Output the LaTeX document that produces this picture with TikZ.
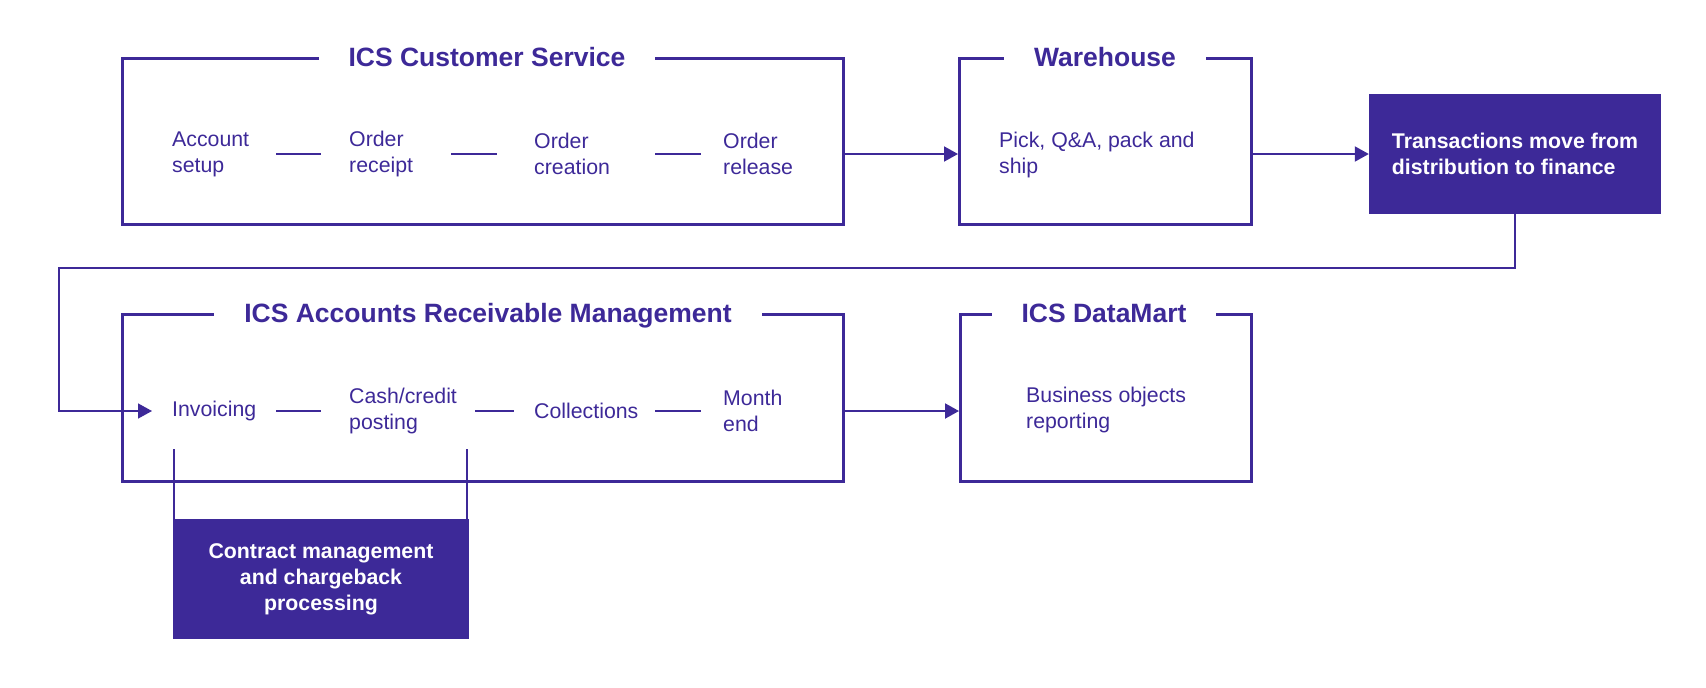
\documentclass[tikz,border=0pt]{standalone}
\usepackage{fontspec}
\setmainfont{Liberation Sans}
\usepackage{tikz}
\usetikzlibrary{arrows.meta}
\usetikzlibrary{positioning}
\definecolor{ics}{RGB}{61,41,152}
\tikzset{
	stage/.style={draw=ics,line width=3pt,minimum width=#1,minimum height=166pt,anchor=north west,inner sep=0pt},
	heading/.style={fill=white,text=ics,inner xsep=30pt,inner ysep=3pt,text height=19pt,text depth=0pt,font=\fontsize{26.5}{32}\selectfont\bfseries},
	item/.style={anchor=west,inner sep=0pt,text width=#1,align=flush left,text=ics,font=\fontsize{21.3}{26}\selectfont},
	block/.style={fill=ics,text=white,minimum width=#1,minimum height=120pt,inner sep=0pt,font=\fontsize{21.3}{26}\selectfont\bfseries},
	link/.style={draw=ics,line width=2pt,shorten >=#1},
	flow/.style={draw=ics,line width=2pt,-{Triangle[length=14pt,width=15pt]}},
	tie/.style={draw=ics,line width=1.5pt}
}

\begin{document}
\begin{tikzpicture}[x=1pt,y=-1pt]
		\useasboundingbox (0,0) rectangle (1706,688);
		\node[stage=721pt] (cs) at (121,57) {};
		\node[heading] (cst) at (487,57) {ICS Customer Service};
		\node[item=104pt] (acct) at (172,154) {Account\\setup};
		\node[item=102pt] (rcpt) at (349,154) {Order\\receipt};
		\node[item=121pt] (crea) at (534,154) {Order\\creation};
		\node[item=90pt] (rel) at (723,154) {Order\\release};
		\node[stage=292pt] (wh) at (958,57) {};
		\node[heading] (wht) at (1105,57) {Warehouse};
		\node[item=220pt] (pick) at (999,155) {Pick, Q\&A, pack and\\ship};
		\node[block=292pt,align=flush left] (tr) at (1515,154) {Transactions move from\\distribution to finance};
		\node[stage=721pt,minimum height=167pt] (ar) at (121,313) {};
		\node[heading] (art) at (488,313) {ICS Accounts Receivable Management};
		\node[item=104pt] (inv) at (172,411) {Invoicing};
		\node[item=126pt] (cash) at (349,411) {Cash/credit\\posting};
		\node[item=121pt] (coll) at (534,411) {Collections};
		\node[item=90pt] (mon) at (723,411) {Month\\end};
		\node[stage=291pt,minimum height=167pt] (dm) at (959,313) {};
		\node[heading] (dmt) at (1104,313) {ICS DataMart};
		\node[item=220pt] (bo) at (1026,410) {Business objects\\reporting};
		\node[block=296pt,align=flush center] (cm) at (321,579) {Contract management\\and chargeback\\processing};
		\coordinate (back) at (59,268);
		\coordinate (cml) at (174,449);
		\coordinate (cmr) at (467,449);
		\draw[link=28pt] (acct.east) -- (rcpt.west);
		\draw[link=37pt] (rcpt.east) -- (crea.west);
		\draw[link=22pt] (crea.east) -- (rel.west);
		\draw[link=28pt] (inv.east) -- (cash.west);
		\draw[link=20pt] (cash.east) -- (coll.west);
		\draw[link=22pt] (coll.east) -- (mon.west);
		\draw[flow] (acct -| cs.east) -- (acct -| wh.west);
		\draw[flow] (tr.west -| wh.east) -- (tr.west);
		\draw[flow,line width=1.5pt,shorten >=20pt] (tr.south) |- (back) |- (inv.west);
		\draw[flow] (inv -| ar.east) -- (inv -| dm.west);
		\draw[tie] (cml) -- (cml |- cm.north);
		\draw[tie] (cmr) -- (cmr |- cm.north);
	\end{tikzpicture}
\end{document}
